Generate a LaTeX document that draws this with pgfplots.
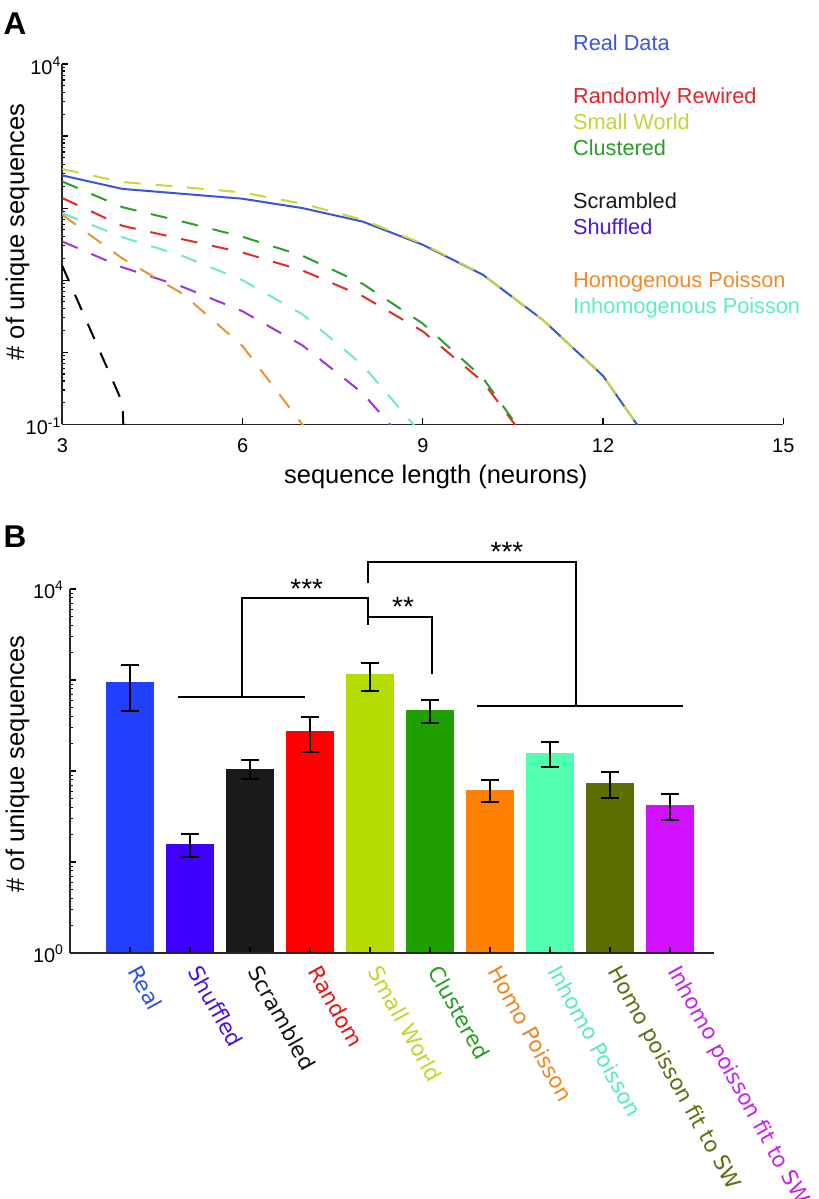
\documentclass[border=0pt]{standalone}
\usepackage{pgfplots}
\pgfplotsset{compat=1.18}
\usetikzlibrary{calc}
\usepackage{fontspec}
\setmainfont{Liberation Sans}
\newfontfamily\dejavu{DejaVu Sans}
\newcommand{\tickfont}{\fontsize{10}{12}\selectfont}
\newcommand{\axfont}{\fontsize{12.8}{15}\selectfont}
\newcommand{\legfont}{\fontsize{10.9}{13}\selectfont}
\newcommand{\labfont}{\dejavu\fontsize{10.8}{12.8}\selectfont}
\newcommand{\starfont}{\fontsize{14}{16}\selectfont}
% line colours (panel A)
\definecolor{lReal}{HTML}{3A55D8}
\definecolor{lSW}{HTML}{C5DA3A}
\definecolor{lCl}{HTML}{2E9E2E}
\definecolor{lRnd}{HTML}{E42B2B}
\definecolor{lInh}{HTML}{6FEBC8}
\definecolor{lSh}{HTML}{9A35E0}
\definecolor{lHo}{HTML}{EE9230}
% legend text colours
\definecolor{tReal}{HTML}{3A56DC}
\definecolor{tRnd}{HTML}{E3242B}
\definecolor{tSW}{HTML}{BFD63A}
\definecolor{tCl}{HTML}{2A9D2A}
\definecolor{tScr}{HTML}{1A1A1A}
\definecolor{tSh}{HTML}{4A1AD8}
\definecolor{tHo}{HTML}{EE8A2A}
\definecolor{tInh}{HTML}{5EEDC0}
% bar colours (panel B)
\definecolor{bReal}{HTML}{2340FF}
\definecolor{bSh}{HTML}{4000FF}
\definecolor{bScr}{HTML}{1A1A1A}
\definecolor{bRnd}{HTML}{FF0000}
\definecolor{bSW}{HTML}{B5DC00}
\definecolor{bCl}{HTML}{20A000}
\definecolor{bHo}{HTML}{FF8000}
\definecolor{bInh}{HTML}{50FFB0}
\definecolor{bHoF}{HTML}{5F6E00}
\definecolor{bInhF}{HTML}{D010FF}
% bar label colours
\definecolor{xReal}{HTML}{2D50E6}
\definecolor{xSh}{HTML}{4A10E0}
\definecolor{xScr}{HTML}{111111}
\definecolor{xRnd}{HTML}{F01010}
\definecolor{xSW}{HTML}{BCD828}
\definecolor{xCl}{HTML}{22A022}
\definecolor{xHo}{HTML}{F08422}
\definecolor{xInh}{HTML}{55EDB8}
\definecolor{xHoF}{HTML}{5F6E10}
\definecolor{xInhF}{HTML}{C820F0}

\pgfplotsset{
  dsh/.style={dash pattern=on 8.3bp off 7.5bp, line width=1bp},
  errbar/.style={ybar, bar width=0.8, bar shift=0pt, draw=none,
    error bars/y dir=both, error bars/y explicit,
    error bars/error bar style={line width=1bp, black},
    error bars/error mark options={rotate=90, mark size=4.5bp, line width=1bp, black}},
}

\begin{document}
\begin{tikzpicture}
\useasboundingbox (0,0) rectangle (409.5bp,-599.5bp);
\fill[white] (0,0) rectangle (409.5bp,-599.5bp);

%================ Panel A ================
\begin{axis}[
  at={(31.15bp,-212.15bp)}, anchor=south west,
  scale only axis, width=360.5bp, height=180.15bp,
  xmin=3, xmax=15, ymin=0.1, ymax=10000, ymode=log,
  axis x line*=bottom, axis y line*=left,
  axis line style={line width=0.8bp, black!85},
  xtick={3,6,9,12,15}, xticklabels={3,6,9,12,15},
  ytick={0.1,1,10,100,1000,10000},
  yticklabels={10\textsuperscript{-1},,,,,10\textsuperscript{4}},
  minor ytick={0.2,0.3,0.4,0.5,0.6,0.7,0.8,0.9,2,3,4,5,6,7,8,9,20,30,40,50,60,70,80,90,200,300,400,500,600,700,800,900,2000,3000,4000,5000,6000,7000,8000,9000},
  major tick length=3bp, minor tick length=1.5bp,
  tick style={line width=0.6bp, black},
  xticklabel style={font=\tickfont, anchor=base, yshift=-14.2bp},
  yticklabel style={font=\tickfont, anchor=base east, inner sep=0.3bp, yshift=-5bp},
]
\addplot[black, dsh] coordinates {(3,15.8)(4,0.2)(5,1e-20)};
\addplot[lSh, dsh] coordinates {(3,34.4)(4,15.1)(5,8.1)(6,3.7)(7,1.24)(8,0.27)(9,0.03)};
\addplot[lHo, dsh] coordinates {(3,80.7)(4,20)(5,6.5)(6,1.22)(7,0.098)(8,0.01)};
\addplot[lInh, dsh] coordinates {(3,85)(4,39.5)(5,21.7)(6,10)(7,3.35)(8,0.66)(9,0.07)};
\addplot[lRnd, dsh] coordinates {(3,138)(4,56.8)(5,37)(6,24.2)(7,13.6)(8,6.0)(9,1.95)(10,0.39)(11,0.03)};
\addplot[lCl, dsh] coordinates {(3,234)(4,103)(5,65)(6,40)(7,21.8)(8,8.9)(9,2.5)(10,0.44)(11,0.03)};
\addplot[lReal, line width=1bp] coordinates {(3,284)(4,185)(5,158)(6,135)(7,100)(8,65)(9,31)(10,11.9)(11,2.8)(12,0.47)(13,0.03)};
\addplot[lSW, dsh] coordinates {(3,348)(4,230)(5,196)(6,165)(7,115)(8,69)(9,32)(10,12)(11,2.8)(12,0.47)(13,0.03)};
\end{axis}

%================ Panel B ================
\begin{axis}[
  at={(35bp,-476.5bp)}, anchor=south west,
  scale only axis, width=322bp, height=182bp,
  xmin=0, xmax=10.733, ymin=1, ymax=10000, ymode=log,
  axis x line*=bottom, axis y line*=left,
  axis line style={line width=0.8bp, black!85},
  axis on top,
  clip=false,
  xtick={1,2,3,4,5,6,7,8,9,10}, xticklabels={},
  ytick={1,10,100,1000,10000},
  yticklabels={10\textsuperscript{0},,,,10\textsuperscript{4}},
  minor ytick={2,3,4,5,6,7,8,9,20,30,40,50,60,70,80,90,200,300,400,500,600,700,800,900,2000,3000,4000,5000,6000,7000,8000,9000},
  major tick length=3bp, minor tick length=1.5bp,
  tick style={line width=0.6bp, black},
  yticklabel style={font=\tickfont, anchor=base east, inner sep=0.3bp, xshift=-2.5bp, yshift=-4.5bp},
]
\addplot[errbar, fill=bReal] coordinates {(1,960) +- (0,505)};
\addplot[errbar, fill=bSh] coordinates {(2,15.9) +- (0,4.6)};
\addplot[errbar, fill=bScr] coordinates {(3,106) +- (0,25)};
\addplot[errbar, fill=bRnd] coordinates {(4,275) +- (0,115)};
\addplot[errbar, fill=bSW] coordinates {(5,1154) +- (0,390)};
\addplot[errbar, fill=bCl] coordinates {(6,468) +- (0,135)};
\addplot[errbar, fill=bHo] coordinates {(7,62.3) +- (0,16.6)};
\addplot[errbar, fill=bInh] coordinates {(8,159) +- (0,47)};
\addplot[errbar, fill=bHoF] coordinates {(9,74.4) +- (0,23.4)};
\addplot[errbar, fill=bInhF] coordinates {(10,42.3) +- (0,13.5)};

% significance brackets
\draw[line width=0.9bp, black] (axis cs:1.805,655.4) -- (axis cs:3.917,655.4);
\draw[line width=0.9bp, black] (axis cs:2.862,655.4) -- (axis cs:2.862,7904) -- (axis cs:4.972,7904) -- (axis cs:4.972,4021);
\draw[line width=0.9bp, black] (axis cs:4.972,4962) -- (axis cs:6.038,4962) -- (axis cs:6.038,1155);
\draw[line width=0.9bp, black] (axis cs:4.972,11551) -- (axis cs:4.972,19953) -- (axis cs:8.433,19953) -- (axis cs:8.433,522);
\draw[line width=0.9bp, black] (axis cs:6.778,522) -- (axis cs:10.212,522);
\node[font=\starfont, anchor=base, inner sep=0] at (axis cs:3.945,7904) {***};
\node[font=\starfont, anchor=base, inner sep=0] at (axis cs:5.55,4962) {**};
\node[font=\starfont, anchor=base, inner sep=0] at (axis cs:7.283,19953) {***};

% category labels
\begin{scope}[every node/.style={rotate=-61, anchor=base west, font=\labfont, inner sep=0}]
\node[text=xReal]  at ($(axis cs:1,1)+(-1.5bp,-9bp)$)  {Real};
\node[text=xSh]    at ($(axis cs:2,1)+(-1.5bp,-9bp)$)  {Shuffled};
\node[text=xScr]   at ($(axis cs:3,1)+(-1.5bp,-9bp)$)  {Scrambled};
\node[text=xRnd]   at ($(axis cs:4,1)+(-1.5bp,-9bp)$)  {Random};
\node[text=xSW]    at ($(axis cs:5,1)+(-1.5bp,-9bp)$)  {Small World};
\node[text=xCl]    at ($(axis cs:6,1)+(-1.5bp,-9bp)$)  {Clustered};
\node[text=xHo]    at ($(axis cs:7,1)+(-1.5bp,-9bp)$)  {Homo Poisson};
\node[text=xInh]   at ($(axis cs:8,1)+(-1.5bp,-9bp)$)  {Inhomo Poisson};
\node[text=xHoF]   at ($(axis cs:9,1)+(-1.5bp,-9bp)$)  {Homo poisson fit to SW};
\node[text=xInhF]  at ($(axis cs:10,1)+(-1.5bp,-9bp)$) {Inhomo poisson fit to SW};
\end{scope}
\end{axis}

%================ free text (px coordinates) ================
\begin{scope}[x=0.5bp, y=-0.5bp, every node/.style={inner sep=0}]
\node[anchor=base west, font=\bfseries\fontsize{15.8}{18}\selectfont] at (3.3,34.3) {A};
\node[anchor=base west, font=\bfseries\fontsize{15.8}{18}\selectfont] at (3.3,548) {B};
\node[rotate=90, anchor=base, font=\axfont] at (24,232) {\# of unique sequences};
\node[rotate=90, anchor=base, font=\axfont] at (24,764) {\# of unique sequences};
\node[anchor=base, font=\axfont] at (435.8,484) {sequence length (neurons)};
\node[anchor=base west, font=\legfont, text=tReal] at (572.7,50.7) {Real Data};
\node[anchor=base west, font=\legfont, text=tRnd]  at (572.7,103.3) {Randomly Rewired};
\node[anchor=base west, font=\legfont, text=tSW]   at (572.7,129.3) {Small World};
\node[anchor=base west, font=\legfont, text=tCl]   at (572.7,156) {Clustered};
\node[anchor=base west, font=\legfont, text=tScr]  at (572.7,208.3) {Scrambled};
\node[anchor=base west, font=\legfont, text=tSh]   at (572.7,234.3) {Shuffled};
\node[anchor=base west, font=\legfont, text=tHo]   at (572.7,287.3) {Homogenous Poisson};
\node[anchor=base west, font=\legfont, text=tInh]  at (572.7,313.3) {Inhomogenous Poisson};
\end{scope}
\end{tikzpicture}
\end{document}
